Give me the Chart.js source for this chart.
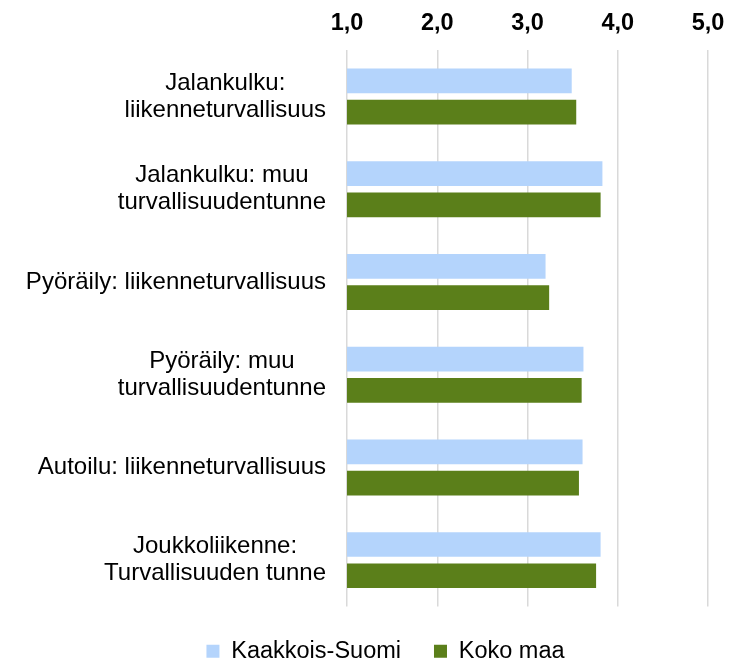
<!DOCTYPE html>
<html>
<head>
<meta charset="utf-8">
<script src="https://cdn.jsdelivr.net/npm/chart.js@4.4.1/dist/chart.umd.min.js"></script>
<style>
  html, body { margin: 0; padding: 0; background: #fff; }
  #wrap { width: 751px; height: 662px; }
</style>
</head>
<body>
<div id="wrap"><canvas id="chart"></canvas></div>
<script>
const categories = [
    ['Jalankulku:', 'liikenneturvallisuus'],
    ['Jalankulku: muu', 'turvallisuudentunne'],
    ['Pyöräily: liikenneturvallisuus'],
    ['Pyöräily: muu', 'turvallisuudentunne'],
    ['Autoilu: liikenneturvallisuus'],
    ['Joukkoliikenne:', 'Turvallisuuden tunne']
];
const kaakkoisSuomi = [3.49, 3.83, 3.20, 3.62, 3.61, 3.81];
const kokoMaa = [3.54, 3.81, 3.24, 3.60, 3.57, 3.76];
const seriesNames = ['Kaakkois-Suomi', 'Koko maa'];

const FONT = '"Liberation Sans", Arial, sans-serif';

// y-axis labels: lines centered on each other, block right aligned
const labelPlugin = {
    id: 'catLabels',
    afterDraw(chart) {
        const ctx = chart.ctx;
        const y = chart.scales.y;
        const rightX = 326;
        const lineH = 27;
        ctx.save();
        ctx.font = '24px ' + FONT;
        ctx.fillStyle = '#000';
        ctx.textAlign = 'center';
        ctx.textBaseline = 'middle';
        categories.forEach((lines, i) => {
            const cy = y.getPixelForValue(i);
            const w = Math.max(...lines.map(l => ctx.measureText(l).width));
            const cx = rightX - w / 2;
            lines.forEach((l, j) => {
                ctx.fillText(l, cx, cy + (j - (lines.length - 1) / 2) * lineH);
            });
        });
        ctx.restore();
    }
};

new Chart(document.getElementById('chart'), {
    type: 'bar',
    data: {
        labels: categories.map(c => c.join(' ')),
        datasets: [
            {
                label: seriesNames[0],
                data: kaakkoisSuomi,
                backgroundColor: '#b4d4fc',
                categoryPercentage: 0.674,
                barPercentage: 0.79
            },
            {
                label: seriesNames[1],
                data: kokoMaa,
                backgroundColor: '#5b7f1a',
                categoryPercentage: 0.674,
                barPercentage: 0.79
            }
        ]
    },
    options: {
        indexAxis: 'y',
        responsive: true,
        maintainAspectRatio: false,
        animation: false,
        layout: { padding: { left: 63, right: 43, top: -4, bottom: -11 } },
        scales: {
            x: {
                position: 'top',
                min: 1,
                max: 5,
                ticks: {
                    stepSize: 1,
                    padding: 13,
                    color: '#000',
                    font: { family: FONT, size: 23.5, weight: 'bold' },
                    callback: v => v.toFixed(1).replace('.', ',')
                },
                grid: { color: '#d9d9d9', lineWidth: 1.5, drawTicks: false },
                border: { display: false }
            },
            y: {
                ticks: { display: false },
                grid: { display: false },
                border: { display: false },
                afterFit(scale) { scale.width = 284; }
            }
        },
        plugins: {
            legend: {
                position: 'bottom',
                labels: {
                    boxWidth: 13,
                    boxHeight: 13,
                    padding: 33,
                    color: '#000',
                    font: { family: FONT, size: 23.5 }
                }
            },
            tooltip: { enabled: false }
        }
    },
    plugins: [labelPlugin]
});
</script>
</body>
</html>
